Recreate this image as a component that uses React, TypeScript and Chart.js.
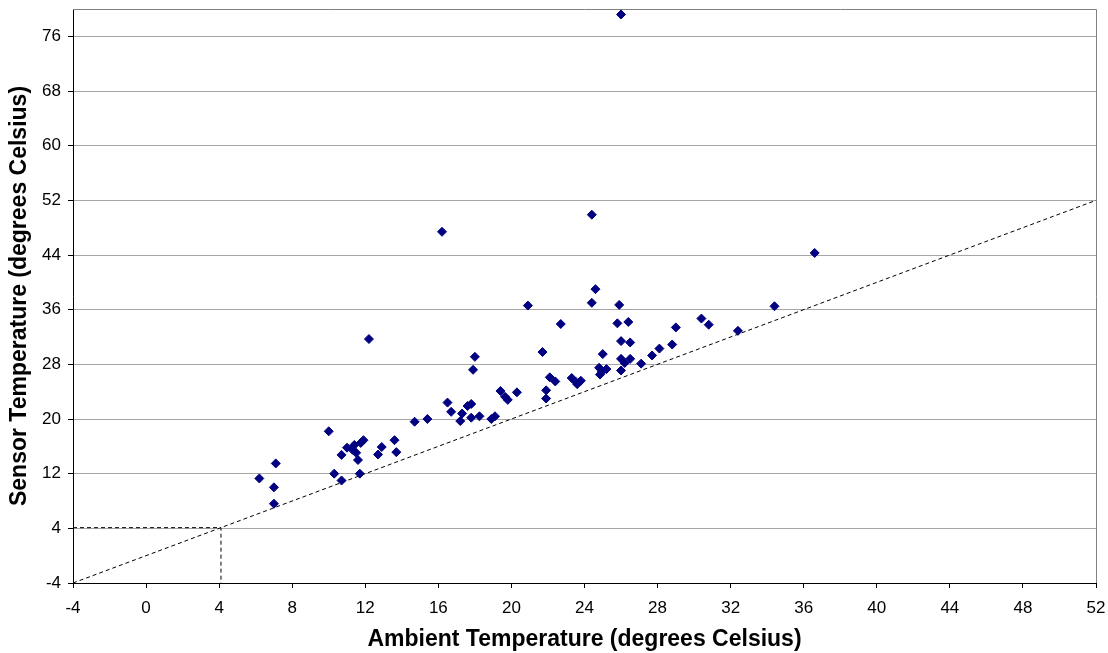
import React, { useEffect, useRef } from 'react';
import { Chart, registerables } from 'chart.js';

Chart.register(...registerables);

// Ambient (x) and sensor (y) temperatures, degrees Celsius
const ambient = [
  6.2, 7.1, 7.0, 7.0, 10.0, 10.3, 10.7, 10.7, 11.0, 11.3, 11.4, 11.5, 11.6, 11.7, 11.75, 11.9,
  12.2, 12.7, 12.9, 13.6, 13.7, 14.7, 15.4, 16.2, 16.5, 16.7, 17.3, 17.2, 17.6, 17.8, 17.8, 18.25,
  18.0, 17.9, 19.4, 19.65, 19.8, 20.3, 18.9, 19.1, 20.9, 21.7, 21.9, 21.9, 22.1, 22.4, 22.7, 23.3,
  23.5, 23.8, 23.6, 24.4, 24.6, 24.4, 25.9, 25.0, 24.8, 24.95, 25.2, 24.85, 25.8, 26.4, 26.0, 26.5,
  26.0, 26.5, 26.2, 27.1, 26.0, 27.7, 28.1, 28.8, 29.0, 30.4, 30.8, 32.4, 34.4, 36.6, 26.0,
];
const sensor = [
  11.3, 13.5, 10.0, 7.6, 18.2, 12.0, 11.0, 14.75, 15.8, 15.5, 16.2, 15.05, 14.0, 12.0, 16.5, 16.9,
  31.7, 14.8, 15.9, 16.9, 15.15, 19.6, 20.0, 47.4, 22.4, 21.05, 20.8, 19.7, 21.9, 22.2, 20.2, 20.4,
  29.1, 27.2, 24.1, 23.25, 22.8, 23.9, 20.0, 20.4, 36.6, 29.8, 24.2, 23.0, 26.1, 25.5, 33.9, 26.0,
  25.5, 25.6, 25.1, 49.9, 39.0, 37.0, 36.7, 29.5, 27.5, 26.9, 27.3, 26.5, 34.0, 34.2, 31.4, 31.2,
  28.8, 28.8, 28.2, 28.1, 27.1, 29.3, 30.3, 30.9, 33.4, 34.7, 33.8, 32.9, 36.5, 44.3, 79.2,
];

// Reference line y = x and threshold guide lines
const diagX = [-4, 52];
const diagY = [-4, 52];
const guideX = [-4, 4.1, 4.1];
const guideY = [4.1, 4.1, -4];

const xTicks = [-4, 0, 4, 8, 12, 16, 20, 24, 28, 32, 36, 40, 44, 48, 52];
const yTicks = [-4, 4, 12, 20, 28, 36, 44, 52, 60, 68, 76];

const xTitle = 'Ambient Temperature (degrees Celsius)';
const yTitle = 'Sensor Temperature (degrees Celsius)';

const FONT = '"Liberation Sans", Arial, sans-serif';

const framePlugin = {
  id: 'frame',
  beforeDatasetsDraw(chart: any) {
    const { ctx, chartArea } = chart;
    const { left, top, right, bottom } = chartArea;
    ctx.save();
    ctx.strokeStyle = '#808080';
    ctx.lineWidth = 1;
    ctx.beginPath();
    ctx.moveTo(left, Math.floor(top) + 0.5);
    ctx.lineTo(Math.floor(right) + 0.5, Math.floor(top) + 0.5);
    ctx.lineTo(Math.floor(right) + 0.5, bottom);
    ctx.stroke();
    ctx.restore();
  },
};

export default function App() {
  const ref = useRef<HTMLCanvasElement | null>(null);

  useEffect(() => {
    if (!ref.current) return;
    const points = ambient.map((x, i) => ({ x, y: sensor[i] }));
    const chart = new Chart(ref.current, {
      type: 'scatter',
      data: {
        datasets: [
          {
            label: 'Readings',
            data: points,
            pointStyle: 'rectRot',
            pointRadius: 4.5,
            pointBorderWidth: 1,
            backgroundColor: '#000080',
            borderColor: '#000080',
            showLine: false,
            order: 0,
          },
          {
            label: 'y = x',
            data: diagX.map((x, i) => ({ x, y: diagY[i] })),
            showLine: true,
            borderColor: '#000000',
            borderWidth: 1,
            borderDash: [4, 3],
            pointRadius: 0,
            fill: false,
            order: 1,
          },
          {
            label: 'guide',
            data: guideX.map((x, i) => ({ x, y: guideY[i] })),
            showLine: true,
            borderColor: '#000000',
            borderWidth: 1,
            borderDash: [4, 3],
            pointRadius: 0,
            fill: false,
            order: 2,
          },
        ],
      },
      options: {
        animation: false,
        responsive: false,
        events: [],
        layout: { padding: { top: 9, right: 12, left: 0, bottom: 0 } },
        plugins: {
          legend: { display: false },
          tooltip: { enabled: false },
        },
        scales: {
          x: {
            type: 'linear',
            min: -4,
            max: 52,
            afterBuildTicks: (s: any) => {
              s.ticks = xTicks.map((v) => ({ value: v }));
            },
            afterFit: (s: any) => {
              s.height = 70;
              s.paddingLeft = 0;
              s.paddingRight = 0;
            },
            ticks: {
              color: '#000',
              font: { family: FONT, size: 17 },
              padding: 10,
              autoSkip: false,
              maxRotation: 0,
              callback: (v: any) => String(v),
            },
            grid: { drawOnChartArea: false, tickLength: 5, tickColor: '#000' },
            border: { color: '#000', width: 1 },
            title: {
              display: true,
              text: xTitle,
              color: '#000',
              font: { family: FONT, size: 23, weight: 'bold', lineHeight: 1 },
              padding: { top: 0, bottom: 1.5 },
            },
          },
          y: {
            type: 'linear',
            min: -4,
            max: 80,
            afterBuildTicks: (s: any) => {
              s.ticks = yTicks.map((v) => ({ value: v }));
            },
            afterFit: (s: any) => {
              s.width = 73;
              s.paddingTop = 0;
              s.paddingBottom = 0;
            },
            ticks: {
              color: '#000',
              font: { family: FONT, size: 17 },
              padding: 7,
              autoSkip: false,
              callback: (v: any) => String(v),
            },
            grid: { color: '#a6a6a6', lineWidth: 1, tickLength: 5, tickColor: '#000' },
            border: { color: '#000', width: 1 },
            title: {
              display: true,
              text: yTitle,
              color: '#000',
              font: { family: FONT, size: 23, weight: 'bold', lineHeight: 1 },
              padding: { top: 8.5, bottom: 0 },
            },
          },
        },
      },
      plugins: [framePlugin],
    });
    return () => chart.destroy();
  }, []);

  return (
    <div style={{ position: 'absolute', left: 0, top: 0, width: 1108, height: 653, background: '#fff' }}>
      <canvas ref={ref} width={1108} height={653} style={{ width: 1108, height: 653, display: 'block' }} />
    </div>
  );
}
